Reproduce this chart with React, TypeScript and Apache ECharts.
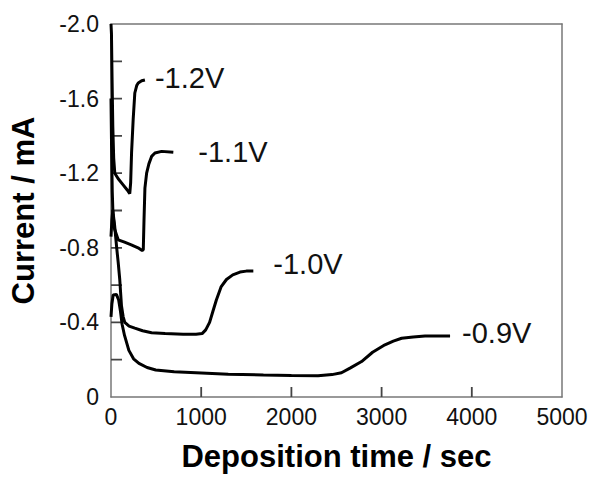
import React, { useEffect, useRef } from "react";
import * as echarts from "echarts";

const xTickValues = [0, 1000, 2000, 3000, 4000, 5000];
const yTickValues = [0, -0.4, -0.8, -1.2, -1.6, -2.0];
const yMinorTickValues = [-0.2, -0.6, -1.0, -1.4, -1.8];

const seriesNames = ["-1.2V", "-1.1V", "-1.0V", "-0.9V"];

const curve12 = [[0,-2.0],[5,-1.95],[12,-1.7],[20,-1.45],[30,-1.28],[42,-1.2],[80,-1.17],[130,-1.14],[180,-1.11],[208,-1.09],[218,-1.15],[228,-1.31],[246,-1.49],[264,-1.63],[285,-1.67],[302,-1.684],[340,-1.696],[376,-1.70]];
const curve11 = [[0,-1.6],[6,-1.35],[14,-1.1],[22,-0.98],[40,-0.9],[80,-0.843],[150,-0.83],[225,-0.816],[300,-0.80],[345,-0.785],[358,-0.79],[366,-0.95],[376,-1.12],[395,-1.2],[420,-1.25],[450,-1.29],[487,-1.308],[561,-1.317],[691,-1.312]];
const curve10 = [[0,-0.86],[10,-0.95],[20,-1.0],[40,-0.92],[61,-0.81],[80,-0.72],[97,-0.63],[116,-0.49],[135,-0.43],[153,-0.40],[200,-0.38],[264,-0.369],[350,-0.355],[450,-0.345],[600,-0.34],[800,-0.337],[943,-0.336],[1010,-0.34],[1050,-0.36],[1093,-0.40],[1130,-0.46],[1168,-0.52],[1220,-0.59],[1280,-0.63],[1350,-0.655],[1430,-0.67],[1500,-0.675],[1578,-0.675]];
const curve09 = [[0,-0.43],[10,-0.5],[24,-0.547],[60,-0.55],[85,-0.52],[105,-0.46],[123,-0.39],[150,-0.33],[198,-0.25],[250,-0.205],[310,-0.18],[400,-0.158],[496,-0.145],[700,-0.135],[943,-0.13],[1300,-0.122],[1690,-0.118],[2000,-0.115],[2296,-0.114],[2450,-0.12],[2555,-0.13],[2650,-0.155],[2778,-0.19],[2900,-0.24],[3037,-0.28],[3130,-0.30],[3222,-0.315],[3350,-0.322],[3481,-0.327],[3759,-0.327]];

const curves = [curve12, curve11, curve10, curve09];
const labelDistances = [10, 25, 20, 12];
const labelOffsets = [[0, -2], [0, 0], [0, -7], [0, -3]];

const FONT = "'Liberation Sans', Arial, sans-serif";
const AXIS_COLOR = "#777777";
const TICK_COLOR = "#444444";

// tick segments as a gapped line series (tick length expressed in axis units)
const X_TICK_LEN = 0.054; // in mA
const Y_TICK_LEN = 122; // in sec
const tickSegments: any[] = [];
xTickValues.filter((v) => v > 0 && v < 5000).forEach((v) => {
  tickSegments.push([v, 0], [v, -X_TICK_LEN], "-");
});
[...yTickValues, ...yMinorTickValues].filter((v) => v < 0 && v > -2).forEach((v) => {
  tickSegments.push([0, v], [Y_TICK_LEN, v], "-");
});

const borderAxis = (position: string) => ({
  type: "value",
  position,
  min: position === "top" || position === "bottom" ? 0 : -2,
  max: position === "top" || position === "bottom" ? 5000 : 0,
  axisLine: { show: true, onZero: false, lineStyle: { color: AXIS_COLOR, width: 1.5 } },
  axisTick: { show: false },
  axisLabel: { show: false },
  splitLine: { show: false },
});

export default function App() {
  const ref = useRef<HTMLDivElement>(null);
  useEffect(() => {
    document.body.style.margin = "0";
    const chart = echarts.init(ref.current!, null, { renderer: "svg" });
    chart.setOption({
      animation: false,
      backgroundColor: "#ffffff",
      grid: { left: 110, right: 31, top: 24, bottom: 81 },
      xAxis: [
        {
          type: "value",
          position: "bottom",
          min: 0,
          max: 5000,
          interval: 1000,
          name: "Deposition time / sec",
          nameLocation: "middle",
          nameGap: 44,
          nameTextStyle: { fontFamily: FONT, fontSize: 31, fontWeight: "bold", color: "#000" },
          axisLine: { show: true, onZero: false, lineStyle: { color: AXIS_COLOR, width: 1.5 } },
          axisTick: { show: false },
          axisLabel: {
            margin: 8,
            fontFamily: FONT,
            fontSize: 23,
            color: "#111",
            formatter: (v: number) => (xTickValues.includes(v) ? String(v) : ""),
          },
          splitLine: { show: false },
        },
        borderAxis("top"),
      ],
      yAxis: [
        {
          type: "value",
          position: "left",
          min: -2,
          max: 0,
          interval: 0.4,
          inverse: true,
          name: "Current / mA",
          nameLocation: "middle",
          nameGap: 72,
          nameTextStyle: { fontFamily: FONT, fontSize: 31, fontWeight: "bold", color: "#000" },
          axisLine: { show: true, onZero: false, lineStyle: { color: AXIS_COLOR, width: 1.5 } },
          axisTick: { show: false },
          axisLabel: {
            margin: 12,
            fontFamily: FONT,
            fontSize: 23,
            color: "#111",
            formatter: (v: number) => {
              const m = yTickValues.find((t) => Math.abs(t - v) < 1e-6);
              if (m === undefined) return "";
              return Math.abs(m) < 1e-9 ? "0" : m.toFixed(1);
            },
          },
          splitLine: { show: false },
        },
        borderAxis("right"),
      ],
      series: [
        {
          type: "line",
          name: "ticks",
          xAxisIndex: 0,
          yAxisIndex: 0,
          data: tickSegments,
          showSymbol: false,
          symbol: "none",
          connectNulls: false,
          silent: true,
          z: 2,
          lineStyle: { color: TICK_COLOR, width: 1.8 },
        },
        ...curves.map((c, i) => ({
          type: "line",
          name: seriesNames[i],
          xAxisIndex: 0,
          yAxisIndex: 0,
          data: c,
          showSymbol: false,
          symbol: "none",
          smooth: false,
          z: 3,
          lineStyle: { color: "#000", width: 3 },
          endLabel: {
            show: true,
            formatter: seriesNames[i],
            distance: labelDistances[i],
            offset: labelOffsets[i],
            fontFamily: FONT,
            fontSize: 29,
            color: "#111",
          },
        })),
      ],
    });
    return () => chart.dispose();
  }, []);
  return <div ref={ref} style={{ width: 593, height: 478 }} />;
}
